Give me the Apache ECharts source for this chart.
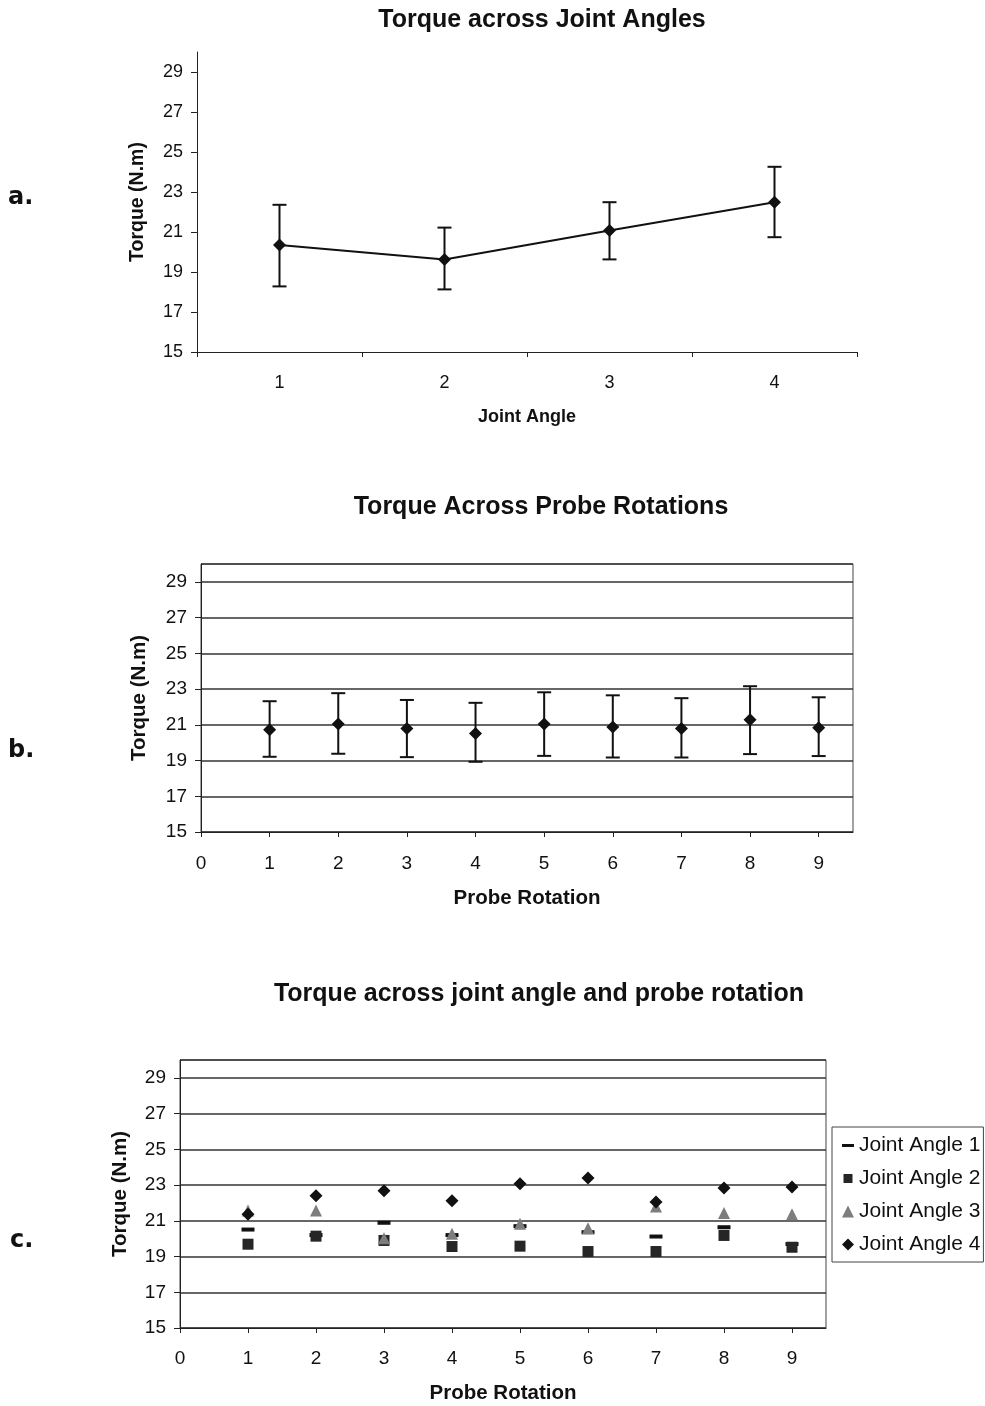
<!DOCTYPE html>
<html>
<head>
<meta charset="utf-8">
<title>Torque</title>
<script src="https://cdn.jsdelivr.net/npm/echarts@6/dist/echarts.min.js"></script>
<style>
html, body { margin: 0; padding: 0; background: #fff; }
#chart { width: 985px; height: 1406px; }
</style>
</head>
<body>
<div id="chart"></div>
<script>
// a. torque across joint angles (mean with error bar ends)
const jointAngles = ['1', '2', '3', '4']
const angleMean = [20.35, 19.63, 21.07, 22.49]
const angleLow = [18.28, 18.13, 19.63, 20.74]
const angleHigh = [22.36, 21.22, 22.49, 24.26]

// b. torque across probe rotations
const rotations = [1, 2, 3, 4, 5, 6, 7, 8, 9]
const rotMean = [20.72, 21.05, 20.79, 20.51, 21.05, 20.87, 20.79, 21.28, 20.83]
const rotLow = [19.21, 19.38, 19.19, 18.93, 19.26, 19.17, 19.17, 19.36, 19.25]
const rotHigh = [22.32, 22.77, 22.39, 22.23, 22.82, 22.65, 22.49, 23.16, 22.54]

// c. torque per joint angle and probe rotation
const ja1 = [20.51, 20.2, 20.89, 20.2, 20.7, 20.36, 20.12, 20.64, 19.7]
const ja2 = [19.69, 20.14, 19.9, 19.56, 19.58, 19.28, 19.28, 20.18, 19.52]
const ja3 = [21.58, 21.58, 20.03, 20.27, 20.83, 20.59, 21.8, 21.43, 21.36]
const ja4 = [21.36, 22.4, 22.68, 22.12, 23.07, 23.39, 22.05, 22.83, 22.89]
const seriesNames = ['Joint Angle 1', 'Joint Angle 2', 'Joint Angle 3', 'Joint Angle 4']

const font = 'Liberation Sans'
const ink = '#111'

const chart = echarts.init(document.getElementById('chart'))

function yAxis (idx, split, labelSize, nameSize, nameGap) {
  return {
    type: 'value',
    gridIndex: idx,
    min: 15,
    max: 30,
    interval: 2,
    name: 'Torque (N.m)',
    nameLocation: 'middle',
    nameRotate: 90,
    nameGap: nameGap,
    nameTextStyle: { fontFamily: font, fontWeight: 'bold', fontSize: nameSize, color: ink },
    axisLine: { show: true, lineStyle: { color: '#222', width: 1 } },
    axisTick: { show: true, length: 6, lineStyle: { color: '#222' } },
    axisLabel: { showMaxLabel: false, fontFamily: font, fontSize: labelSize, color: ink, margin: 14 },
    splitLine: { show: split, lineStyle: { color: '#333', width: 1.5 } }
  }
}

function rotationAxis (idx, margin, nameGap) {
  return {
    type: 'value',
    gridIndex: idx,
    min: 0,
    max: 9.5,
    interval: 1,
    name: 'Probe Rotation',
    nameLocation: 'middle',
    nameGap: nameGap,
    nameTextStyle: { fontFamily: font, fontWeight: 'bold', fontSize: 20.5, color: ink },
    axisLine: { show: true, onZero: false, lineStyle: { color: '#222', width: 1 } },
    axisTick: { show: true, length: 5, lineStyle: { color: '#222' } },
    axisLabel: { showMaxLabel: false, fontFamily: font, fontSize: 19, color: ink, margin: margin },
    splitLine: { show: false }
  }
}

function errorBars (idx, data) {
  return {
    type: 'custom',
    xAxisIndex: idx,
    yAxisIndex: idx,
    data: data,
    encode: { x: 0, y: [1, 2] },
    silent: true,
    z: 1,
    renderItem (params, api) {
      const hi = api.coord([api.value(0), api.value(2)])
      const lo = api.coord([api.value(0), api.value(1)])
      const half = 7
      const style = { stroke: ink, lineWidth: 2 }
      return {
        type: 'group',
        children: [
          { type: 'line', shape: { x1: hi[0], y1: hi[1], x2: lo[0], y2: lo[1] }, style },
          { type: 'line', shape: { x1: hi[0] - half, y1: hi[1], x2: hi[0] + half, y2: hi[1] }, style },
          { type: 'line', shape: { x1: lo[0] - half, y1: lo[1], x2: lo[0] + half, y2: lo[1] }, style }
        ]
      }
    }
  }
}

const titleStyle = { fontFamily: font, fontWeight: 'bold', fontSize: 25, color: ink }
const panelFont = 'bold 24px "DejaVu Sans"'

const option = {
  backgroundColor: '#fff',
  animation: false,
  title: [
    { text: 'Torque across Joint Angles', left: 542, top: 8, textAlign: 'center', padding: 0, textStyle: titleStyle },
    { text: 'Torque Across Probe Rotations', left: 541, top: 495, textAlign: 'center', padding: 0, textStyle: titleStyle },
    { text: 'Torque across joint angle and probe rotation', left: 539, top: 982, textAlign: 'center', padding: 0, textStyle: titleStyle }
  ],
  graphic: [
    { type: 'text', left: 8, top: 186, style: { text: 'a.', font: panelFont, fill: ink } },
    { type: 'text', left: 8, top: 739, style: { text: 'b.', font: panelFont, fill: ink } },
    { type: 'text', left: 10, top: 1229, style: { text: 'c.', font: panelFont, fill: ink } }
  ],
  grid: [
    { left: 197, top: 52, width: 660, height: 300 },
    { left: 201, top: 564, width: 652, height: 268, show: true, borderColor: '#444', borderWidth: 1 },
    { left: 180, top: 1060, width: 646, height: 268, show: true, borderColor: '#444', borderWidth: 1 }
  ],
  legend: {
    left: 832,
    top: 1127,
    orient: 'vertical',
    itemWidth: 12,
    itemHeight: 12,
    itemGap: 12,
    padding: [8, 3, 7, 10],
    borderColor: '#444',
    borderWidth: 1,
    textStyle: { fontFamily: font, fontSize: 21, color: ink, lineHeight: 21 },
    data: [
      { name: seriesNames[0], icon: 'path://M0,0M12,12M0,4.5H12V7.5H0Z' },
      { name: seriesNames[1], icon: 'path://M0,0M12,12M1.5,1.5H10.5V10.5H1.5Z' },
      { name: seriesNames[2], icon: 'triangle' },
      { name: seriesNames[3], icon: 'diamond' }
    ]
  },
  xAxis: [
    {
      type: 'category',
      gridIndex: 0,
      data: jointAngles,
      boundaryGap: true,
      name: 'Joint Angle',
      nameLocation: 'middle',
      nameGap: 56,
      nameTextStyle: { fontFamily: font, fontWeight: 'bold', fontSize: 18, color: ink },
      axisLine: { show: true, lineStyle: { color: '#222', width: 1 } },
      axisTick: { show: true, length: 5, lineStyle: { color: '#222' } },
      axisLabel: { fontFamily: font, fontSize: 18, color: ink, margin: 22 }
    },
    rotationAxis(1, 22, 56),
    rotationAxis(2, 21, 55)
  ],
  yAxis: [yAxis(0, false, 18, 19.5, 49), yAxis(1, true, 19, 20.5, 51), yAxis(2, true, 19, 20.5, 49.5)],
  series: [
    errorBars(0, jointAngles.map((c, i) => [i, angleLow[i], angleHigh[i]])),
    {
      type: 'line',
      xAxisIndex: 0,
      yAxisIndex: 0,
      data: angleMean,
      symbol: 'diamond',
      symbolSize: 13,
      lineStyle: { color: ink, width: 2 },
      itemStyle: { color: ink, opacity: 1 },
      z: 3
    },
    errorBars(1, rotations.map((r, i) => [r, rotLow[i], rotHigh[i]])),
    {
      type: 'scatter',
      xAxisIndex: 1,
      yAxisIndex: 1,
      data: rotations.map((r, i) => [r, rotMean[i]]),
      symbol: 'diamond',
      symbolSize: 13,
      itemStyle: { color: ink, opacity: 1 },
      z: 3
    },
    {
      name: seriesNames[0],
      type: 'scatter',
      xAxisIndex: 2,
      yAxisIndex: 2,
      data: rotations.map((r, i) => [r, ja1[i]]),
      symbol: 'rect',
      symbolSize: [13, 4],
      itemStyle: { color: ink, opacity: 1 }
    },
    {
      name: seriesNames[1],
      type: 'scatter',
      xAxisIndex: 2,
      yAxisIndex: 2,
      data: rotations.map((r, i) => [r, ja2[i]]),
      symbol: 'rect',
      symbolSize: 11,
      itemStyle: { color: '#262626', opacity: 1 }
    },
    {
      name: seriesNames[2],
      type: 'scatter',
      xAxisIndex: 2,
      yAxisIndex: 2,
      data: rotations.map((r, i) => [r, ja3[i]]),
      symbol: 'triangle',
      symbolSize: 12,
      itemStyle: { color: '#7d7d7d', opacity: 1 }
    },
    {
      name: seriesNames[3],
      type: 'scatter',
      xAxisIndex: 2,
      yAxisIndex: 2,
      data: rotations.map((r, i) => [r, ja4[i]]),
      symbol: 'diamond',
      symbolSize: 13,
      itemStyle: { color: ink, opacity: 1 }
    }
  ]
}

chart.setOption(option)
</script>
</body>
</html>
